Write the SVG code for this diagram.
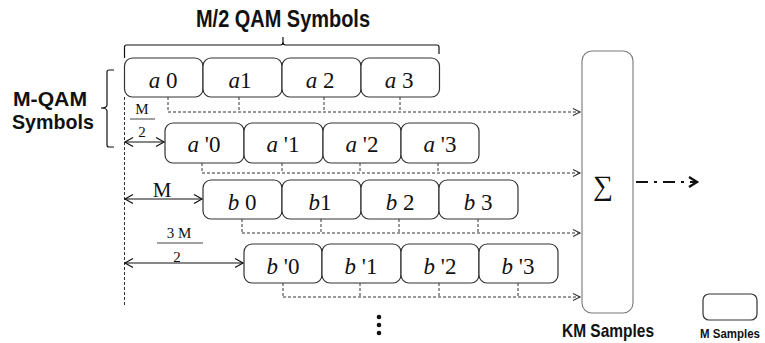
<svg xmlns="http://www.w3.org/2000/svg" width="765" height="343" viewBox="0 0 765 343">
<defs>
<style>
.box{fill:#fff;stroke:#333;stroke-width:1.2}
.lbl{font-family:"Liberation Serif",serif;font-size:23px;fill:#111;text-anchor:middle}
.it{font-style:italic}
.dash{fill:none;stroke:#333;stroke-width:1;stroke-dasharray:3 2}
.solid{fill:none;stroke:#111;stroke-width:1.2}
.head{font-family:"Liberation Sans",Arial,sans-serif;font-weight:bold;fill:#111}
.frac{font-family:"Liberation Serif",serif;fill:#111;text-anchor:middle}
</style>
<marker id="arr" markerWidth="10" markerHeight="10" refX="8" refY="4" orient="auto" markerUnits="userSpaceOnUse">
<path d="M1,0.5 L8,4 L1,7.5" fill="none" stroke="#333" stroke-width="1.1"/>
</marker>
<marker id="dbl" markerWidth="12" markerHeight="12" refX="9" refY="5" orient="auto-start-reverse" markerUnits="userSpaceOnUse">
<path d="M1,0.5 L9,5 L1,9.5" fill="none" stroke="#111" stroke-width="1.2"/>
</marker>
<marker id="bold" markerWidth="14" markerHeight="14" refX="10" refY="6" orient="auto" markerUnits="userSpaceOnUse">
<path d="M2,1 L10,6 L2,11" fill="none" stroke="#111" stroke-width="2.4"/>
</marker>
</defs>

<!-- headings -->
<text class="head" x="283" y="27" font-size="23" text-anchor="middle" textLength="174" lengthAdjust="spacingAndGlyphs">M/2 QAM Symbols</text>
<text class="head" x="50" y="106" font-size="21" text-anchor="middle" textLength="74" lengthAdjust="spacingAndGlyphs">M-QAM</text>
<text class="head" x="53" y="129" font-size="21" text-anchor="middle" textLength="82" lengthAdjust="spacingAndGlyphs">Symbols</text>

<!-- braces -->
<path class="solid" d="M124.5 58 V47 Q124.5 45 126.5 45 H280.5 Q283 45 283 42 V37 M283 42 Q283 45 285.5 45 H437 Q439 45 439 47 V54"/>
<path class="solid" d="M114 70 H109 Q107 70 107 72 V105 Q107 108 101 108 Q107 108 107 111 V145 Q107 147 109 147 H114"/>

<!-- row a -->
<g id="row-a">
<rect class="box" x="124.5" y="58" width="78.5" height="39" rx="8"/>
<rect class="box" x="203" y="58" width="79" height="39" rx="8"/>
<rect class="box" x="282" y="58" width="79" height="39" rx="8"/>
<rect class="box" x="361" y="58" width="78.5" height="39" rx="8"/>
<text class="lbl" x="163" y="88"><tspan class="it">a</tspan> 0</text>
<text class="lbl" x="240" y="88"><tspan class="it">a</tspan>1</text>
<text class="lbl" x="320" y="88"><tspan class="it">a</tspan> 2</text>
<text class="lbl" x="399" y="88"><tspan class="it">a</tspan> 3</text>
</g>
<!-- row a' -->
<g id="row-a-prime">
<rect class="box" x="165" y="123" width="79" height="40" rx="8"/>
<rect class="box" x="244" y="123" width="79" height="40" rx="8"/>
<rect class="box" x="323" y="123" width="78" height="40" rx="8"/>
<rect class="box" x="401" y="123" width="78" height="40" rx="8"/>
<text class="lbl" x="204" y="152"><tspan class="it">a</tspan> '0</text>
<text class="lbl" x="283" y="152"><tspan class="it">a</tspan> '1</text>
<text class="lbl" x="362" y="152"><tspan class="it">a</tspan> '2</text>
<text class="lbl" x="440" y="152"><tspan class="it">a</tspan> '3</text>
</g>
<!-- row b -->
<g id="row-b">
<rect class="box" x="203" y="180" width="79" height="39" rx="8"/>
<rect class="box" x="282" y="180" width="79" height="39" rx="8"/>
<rect class="box" x="361" y="180" width="78" height="39" rx="8"/>
<rect class="box" x="439" y="180" width="79" height="39" rx="8"/>
<text class="lbl" x="242" y="210"><tspan class="it">b</tspan> 0</text>
<text class="lbl" x="320" y="210"><tspan class="it">b</tspan>1</text>
<text class="lbl" x="400" y="210"><tspan class="it">b</tspan> 2</text>
<text class="lbl" x="478" y="210"><tspan class="it">b</tspan> 3</text>
</g>
<!-- row b' -->
<g id="row-b-prime">
<rect class="box" x="244" y="244" width="78" height="39" rx="8"/>
<rect class="box" x="322" y="244" width="79" height="39" rx="8"/>
<rect class="box" x="401" y="244" width="78" height="39" rx="8"/>
<rect class="box" x="479" y="244" width="79" height="39" rx="8"/>
<text class="lbl" x="283" y="274"><tspan class="it">b</tspan> '0</text>
<text class="lbl" x="361" y="274"><tspan class="it">b</tspan> '1</text>
<text class="lbl" x="440" y="274"><tspan class="it">b</tspan> '2</text>
<text class="lbl" x="518" y="274"><tspan class="it">b</tspan> '3</text>
</g>

<!-- sum node -->
<g id="sum">
<rect x="582" y="51" width="51" height="262" rx="10" fill="#fff" stroke="#777" stroke-width="1.1"/>
<text x="603" y="195" font-family="Liberation Serif,serif" font-size="28" text-anchor="middle" fill="#111">∑</text>
<text class="head" x="608" y="337" font-size="19" text-anchor="middle" textLength="92" lengthAdjust="spacingAndGlyphs">KM Samples</text>
</g>

<!-- legend -->
<g id="legend">
<rect x="703" y="294" width="54" height="26" rx="6" fill="#fff" stroke="#333" stroke-width="1.2"/>
<text class="head" x="730" y="338" font-size="12" text-anchor="middle" textLength="60" lengthAdjust="spacingAndGlyphs">M Samples</text>
</g>

<!-- connectors -->
<g id="connectors">
<path class="dash" d="M124.5 97 V305"/>
<path class="dash" d="M168 97 V112 M239 97 V112 M324 97 V112 M400 97 V112"/>
<path class="dash" d="M168 112 H580" marker-end="url(#arr)"/>
<path class="dash" d="M202 163 V173 M282 163 V173 M360 163 V173 M438 163 V173"/>
<path class="dash" d="M202 173 H580" marker-end="url(#arr)"/>
<path class="dash" d="M242 219 V233 M321 219 V233 M399 219 V233 M478 219 V233"/>
<path class="dash" d="M242 233 H580" marker-end="url(#arr)"/>
<path class="dash" d="M283 283 V297 M360 283 V297 M439 283 V297 M518 283 V297"/>
<path class="dash" d="M283 297 H580" marker-end="url(#arr)"/>
<path d="M636 182 H697" fill="none" stroke="#111" stroke-width="2.2" stroke-dasharray="12 6 3 6" marker-end="url(#bold)"/>
<path class="solid" d="M125 142 H164" marker-start="url(#dbl)" marker-end="url(#dbl)"/>
<path class="solid" d="M125 199 H202" marker-start="url(#dbl)" marker-end="url(#dbl)"/>
<path class="solid" d="M125 263 H243" marker-start="url(#dbl)" marker-end="url(#dbl)"/>
</g>

<!-- offset labels -->
<text class="frac" x="142" y="114" font-size="15">M</text>
<path d="M130 119 H155" stroke="#111" stroke-width="0.8"/>
<text class="frac" x="142" y="137" font-size="15">2</text>
<text class="frac" x="162" y="197" font-size="21">M</text>
<text class="frac" x="179" y="238" font-size="15">3 M</text>
<path d="M157 243 H203" stroke="#111" stroke-width="0.8"/>
<text class="frac" x="177" y="262" font-size="15">2</text>

<!-- ellipsis -->
<g fill="#111">
<circle cx="379" cy="317" r="2.3"/>
<circle cx="379" cy="325" r="2.3"/>
<circle cx="379" cy="333" r="2.3"/>
</g>
</svg>
